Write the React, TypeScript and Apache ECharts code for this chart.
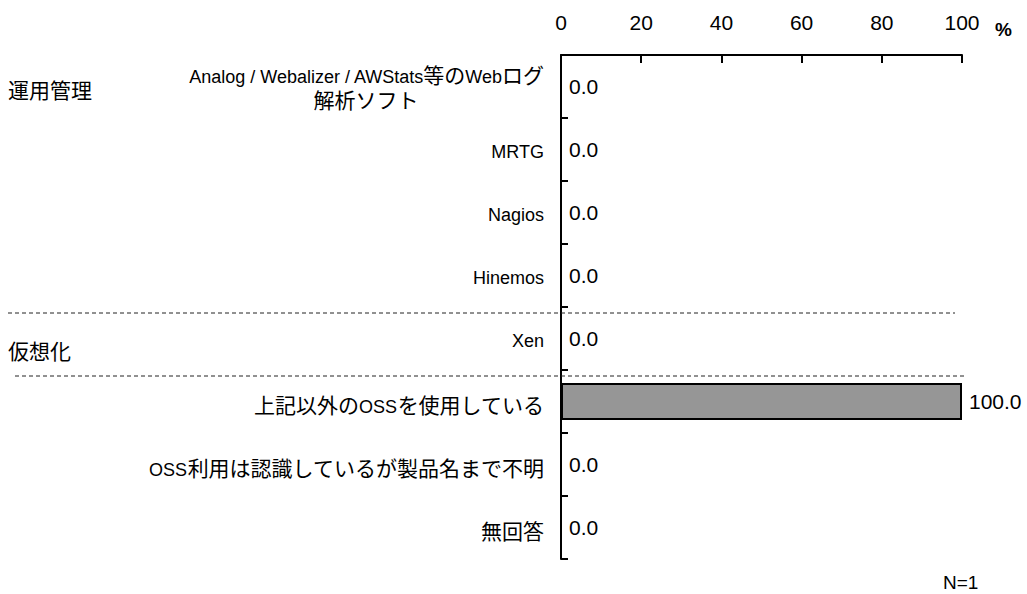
import React, { useEffect, useRef } from "react";
import * as echarts from "echarts";

const categories = [
  "Analog / Webalizer / AWStats等のWebログ\n解析ソフト",
  "MRTG",
  "Nagios",
  "Hinemos",
  "Xen",
  "上記以外のOSSを使用している",
  "OSS利用は認識しているが製品名まで不明",
  "無回答",
];
const values = [0, 0, 0, 0, 0, 100, 0, 0];
const xTicks = [0, 20, 40, 60, 80, 100];
const groupLabels = ["運用管理", "仮想化"];
const groupLabelY = [89, 350];
const separatorRows = [4, 5];
const unitText = "%";
const sampleText = "N=1";

const CJK = "'Noto Sans CJK JP', 'Noto Sans', sans-serif";
const LATIN = "'Liberation Sans', Arial, 'Noto Sans CJK JP', sans-serif";

const GRID_LEFT = 561;
const GRID_TOP = 55;
const GRID_BOTTOM_Y = 559;
const GRID_RIGHT_X = 962;

// key: [latin|cjk][mixed][multi][center]
function toRich(line: string, multi: boolean, center: boolean): string {
  const runs = line.match(/[\x00-\x7F]+|[^\x00-\x7F]+/g) || [];
  const mixed = runs.length > 1;
  return runs
    .map((r) => {
      const latin = /^[\x00-\x7F]/.test(r);
      const key = (latin ? "l" : "c") + (latin && mixed ? "m" : "s") + (multi ? "2" : "1") + (center ? "c" : "r");
      return `{${key}|${r}}`;
    })
    .join("");
}

function buildRich() {
  const rich: Record<string, any> = {};
  for (const t of ["l", "c"]) {
    for (const m of ["m", "s"]) {
      for (const n of ["1", "2"]) {
        for (const a of ["c", "r"]) {
          let bottomPad = 0;
          if (n === "1") bottomPad = t === "l" && m === "m" ? -11 : -5;
          else bottomPad = t === "l" && m === "m" ? -6 : 0;
          rich[t + m + n + a] = {
            color: "#000",
            lineHeight: n === "2" ? 25 : 22,
            fontSize: t === "l" ? 18 : 21,
            fontFamily: t === "l" ? LATIN : CJK,
            padding: [0, 0, bottomPad, 0],
            ...(a === "c" ? { align: "center" } : {}),
          };
        }
      }
    }
  }
  return rich;
}

export default function App() {
  const ref = useRef<HTMLDivElement>(null);
  useEffect(() => {
    if (!ref.current) return;
    const chart = echarts.init(ref.current, undefined, { renderer: "svg" });
    const rowH = (GRID_BOTTOM_Y - GRID_TOP) / categories.length;
    const graphics: any[] = [];
    groupLabels.forEach((g, i) => {
      graphics.push({
        type: "text",
        x: 8,
        y: groupLabelY[i],
        style: { text: g, font: `21px ${CJK}`, fill: "#000", verticalAlign: "middle", align: "left" },
      });
    });
    const dashX = [[8, 955], [15, 965]];
    separatorRows.forEach((r, i) => {
      const y = GRID_TOP + rowH * r + 6;
      graphics.push({
        type: "line",
        shape: { x1: dashX[i][0], y1: y, x2: dashX[i][1], y2: y },
        style: { stroke: "#222", lineWidth: 1, lineDash: [4, 3] },
        z: 10,
      });
    });
    graphics.push({
      type: "text",
      x: 995,
      y: 29,
      style: { text: unitText, font: `bold 19px ${LATIN}`, fill: "#000", verticalAlign: "middle", align: "left" },
    });
    graphics.push({
      type: "text",
      x: 943,
      y: 582,
      style: { text: sampleText, font: `19px ${LATIN}`, fill: "#000", verticalAlign: "middle", align: "left" },
    });

    chart.setOption({
      animation: false,
      backgroundColor: "#fff",
      grid: {
        left: GRID_LEFT,
        top: GRID_TOP,
        right: 1027 - GRID_RIGHT_X,
        bottom: 594 - GRID_BOTTOM_Y,
        containLabel: false,
      },
      xAxis: {
        type: "value",
        position: "top",
        min: 0,
        max: 100,
        interval: 20,
        axisLine: { show: true, lineStyle: { color: "#000", width: 2 } },
        axisTick: { show: true, inside: true, length: 8, lineStyle: { color: "#000", width: 2 } },
        axisLabel: {
          margin: 22,
          fontSize: 21,
          fontFamily: LATIN,
          color: "#000",
          formatter: (v: number) => (xTicks.includes(v) ? String(v) : ""),
        },
        splitLine: { show: false },
      },
      yAxis: {
        type: "category",
        inverse: true,
        data: categories,
        axisLine: { show: true, lineStyle: { color: "#000", width: 2 } },
        axisTick: { show: true, inside: true, length: 7, lineStyle: { color: "#000", width: 2 } },
        axisLabel: {
          margin: 17,
          fontSize: 18,
          fontFamily: LATIN,
          color: "#000",
          lineHeight: 22,
          formatter: (v: string) => {
            const lines = v.split("\n");
            const multi = lines.length > 1;
            return lines.map((ln, i) => toRich(ln, multi, i > 0)).join("\n");
          },
          rich: buildRich(),
        },
      },
      series: [
        {
          type: "bar",
          data: values,
          barWidth: 37,
          itemStyle: { color: "#969696", borderColor: "#000", borderWidth: 2 },
          label: {
            show: true,
            position: "right",
            distance: 7,
            fontSize: 21,
            fontFamily: LATIN,
            color: "#000",
            formatter: (p: any) => Number(p.value).toFixed(1),
          },
        },
      ],
      graphic: graphics,
    });
    return () => chart.dispose();
  }, []);
  return <div ref={ref} style={{ position: "fixed", left: 0, top: 0, width: 1027, height: 594 }} />;
}
